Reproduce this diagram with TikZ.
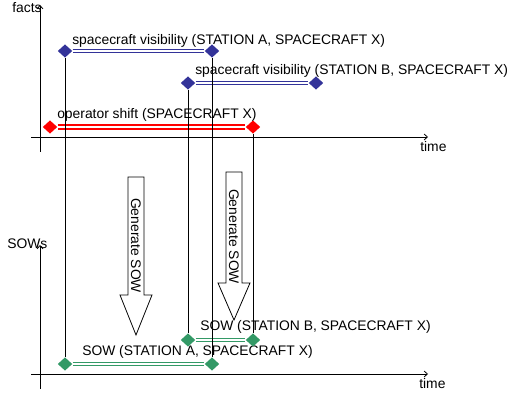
\documentclass[tikz,border=0pt]{standalone}
\usepackage{fontspec}
\setmainfont{Liberation Sans}
\usepackage{tikz}
\usetikzlibrary{
	arrows.meta,
	shapes.geometric
}
\definecolor{VisBlue}{RGB}{51,51,153}
\definecolor{ShiftRed}{RGB}{255,0,0}
\definecolor{SowGreen}{RGB}{51,153,102}

\begin{document}
\begin{tikzpicture}[x=0.75pt, y=-0.75pt,
	every node/.style={font=\fontsize{10.4}{12}\selectfont, inner sep=0pt},
	axis/.style={-{Straight Barb[length=2.5pt,width=4.5pt]}, line width=0.6pt},
	lbl/.style={anchor=west},
	ends/.style={diamond, minimum width=11pt, minimum height=10pt, inner sep=0pt},
	bar/.style={double=white, line width=0.75pt, double distance=1.5pt},
	link/.style={line width=0.6pt},
	gentxt/.style={rotate=-90}]
	\useasboundingbox (0,0) rectangle (510,398);

	% 坐标轴 facts
	\draw[axis] (40,152) -- (40,5);
	\draw[axis] (31,137) -- (428,137);
	\node[lbl] (facts) at (12,8) {facts};
	\node[lbl] (timeF) at (420,147) {time};

	% 坐标轴 SOWs
	\draw[axis] (40,389) -- (40,245);
	\draw[axis] (31,374) -- (428,374);
	\node[lbl] (sows) at (7,244) {SOWs};
	\node[lbl] (timeS) at (419,384) {time};

	% spacecraft visibility A
	\node[ends, fill=VisBlue] (visA1) at (65,51) {};
	\node[ends, fill=VisBlue] (visA2) at (212,51) {};
	\draw[bar, VisBlue] (visA1) -- (visA2);
	\node[lbl] (visAlbl) at (72,41) {spacecraft visibility (STATION A, SPACECRAFT X)};

	% spacecraft visibility B
	\node[ends, fill=VisBlue] (visB1) at (188,83) {};
	\node[ends, fill=VisBlue] (visB2) at (316,83) {};
	\draw[bar, VisBlue] (visB1) -- (visB2);
	\node[lbl] (visBlbl) at (195,71) {spacecraft visibility (STATION B, SPACECRAFT X)};

	% operator shift
	\node[ends, fill=ShiftRed] (shift1) at (50,127) {};
	\node[ends, fill=ShiftRed] (shift2) at (253,127) {};
	\draw[bar, ShiftRed, line width=1.4pt] (shift1) -- (shift2);
	\node[lbl] (shiftlbl) at (57,115) {operator shift (SPACECRAFT X)};

	% SOW A / SOW B
	\node[ends, fill=SowGreen] (sowA1) at (65,364) {};
	\node[ends, fill=SowGreen] (sowA2) at (212,364) {};
	\draw[bar, SowGreen] (sowA1) -- (sowA2);
	\node[lbl] (sowAlbl) at (82,352) {SOW (STATION A, SPACECRAFT X)};
	\node[ends, fill=SowGreen] (sowB1) at (188,340) {};
	\node[ends, fill=SowGreen] (sowB2) at (253,340) {};
	\draw[bar, SowGreen] (sowB1) -- (sowB2);
	\node[lbl] (sowBlbl) at (200,327) {SOW (STATION B, SPACECRAFT X)};

	% 连线
	\draw[link] (visA1) -- (sowA1);
	\draw[link] (visA2) -- (sowA2);
	\draw[link] (visB1) -- (sowB1);
	\draw[link] (shift2) -- (sowB2);

	% Generate SOW 箭头
	\draw[link] (128,177) -- (144,177) -- (144,295) -- (152,295) -- (136,335)
		-- (120,295) -- (128,295) -- cycle;
	\node[gentxt] (genA) at (136,245.5) {Generate SOW};
	\draw[link] (226,172) -- (242,172) -- (242,283) -- (250,283) -- (234,320)
		-- (218,283) -- (226,283) -- cycle;
	\node[gentxt] (genB) at (234,236.5) {Generate SOW};
\end{tikzpicture}
\end{document}
